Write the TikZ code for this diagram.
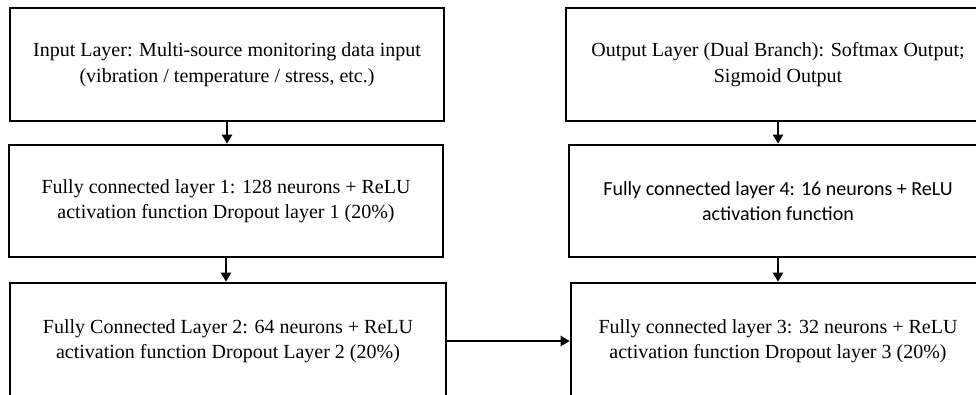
\documentclass[tikz,border=0pt]{standalone}
\usepackage{fontspec}
\setmainfont{Liberation Serif}
\newfontfamily\calib{Carlito}
\usetikzlibrary{arrows.meta}
\begin{document}
\begin{tikzpicture}[x=1pt,y=-1pt,
  layerbox/.style={draw,line width=2.6pt,inner sep=0pt,align=center,font=\fontsize{20}{25.5}\selectfont},
  flow/.style={line width=2.2pt,-{Triangle[length=9pt,width=10pt]}}]
\useasboundingbox (0,0) rectangle (976,394);
\clip (0,0) rectangle (976,394);
\node[layerbox,minimum width=434pt,minimum height=113pt] (in) at (227,64.5)
  {Input Layer: Multi-source monitoring data input\\(vibration / temperature / stress, etc.)};
\node[layerbox,minimum width=434pt,minimum height=112pt] (fc1) at (226,201)
  {Fully connected layer 1: 128 neurons + ReLU\\activation function Dropout layer 1 (20\%)};
\node[layerbox,minimum width=436pt,minimum height=116pt] (fc2) at (228,341)
  {Fully Connected Layer 2: 64 neurons + ReLU\\activation function Dropout Layer 2 (20\%)};
\node[layerbox,minimum width=424pt,minimum height=113pt] (out) at (778,64.5)
  {Output Layer (Dual Branch): Softmax Output;\\Sigmoid Output};
\node[layerbox,minimum width=418pt,minimum height=112pt,font=\calib\fontsize{20}{25.5}\selectfont] (fc4) at (778,201)
  {Fully connected layer 4: 16 neurons + ReLU\\activation function};
\node[layerbox,minimum width=414pt,minimum height=116pt] (fc3) at (778,341)
  {Fully connected layer 3: 32 neurons + ReLU\\activation function Dropout layer 3 (20\%)};
\draw[flow] (in.south) -- (in.south |- fc1.north);
\draw[flow] (fc1.south) -- (fc1.south |- fc2.north);
\draw[flow] (fc2.east) -- (fc3.west);
\draw[flow] (out.south) -- (fc4.north);
\draw[flow] (fc4.south) -- (fc3.north);
\end{tikzpicture}
\end{document}
